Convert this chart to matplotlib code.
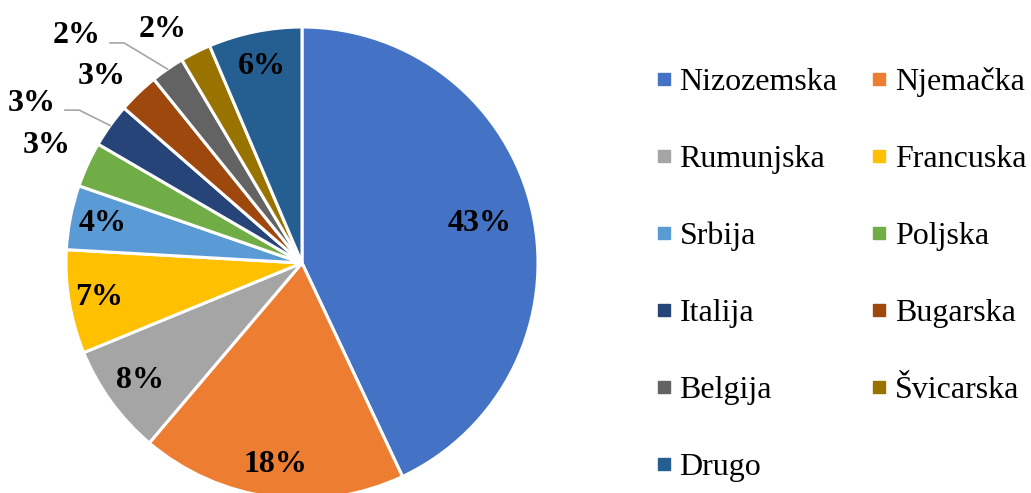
import numpy as np
import matplotlib
matplotlib.use("Agg")
import matplotlib.pyplot as plt
from matplotlib.lines import Line2D

plt.rcParams['font.family'] = ['Liberation Serif', 'DejaVu Serif']

# data (percent share)
countries = ["Nizozemska", "Njemačka", "Rumunjska", "Francuska", "Srbija", "Poljska",
             "Italija", "Bugarska", "Belgija", "Švicarska", "Drugo"]
shares = [43.0, 18.2, 7.6, 7.1, 4.4, 3.1, 3.0, 2.8, 2.3, 2.1, 6.4]
colors = ["#4472C4", "#ED7D31", "#A5A5A5", "#FFC000", "#5B9BD5", "#70AD47",
          "#264478", "#9E480E", "#636363", "#997300", "#255E91"]

# label placement (radius in pie units, angular nudge in degrees)
label_r = [0.77, 0.86, 0.85, 0.87, 0.86, 1.19, 1.33, 1.16, 1.355, 1.15, 0.85]
label_nudge = [0, 0, 0, 0, 0, 0, 5, 3, 10, 4, 0]
leader = [False, False, False, False, False, False, True, False, True, False, False]

fig = plt.figure(figsize=(10.31, 4.93), dpi=100)
ax = fig.add_axes([0, 0, 1, 1])

wedges, _ = ax.pie(shares, colors=colors, startangle=90, counterclock=False,
                   wedgeprops=dict(edgecolor="white", linewidth=2.2))

for w, s, r, nd, ld in zip(wedges, shares, label_r, label_nudge, leader):
    mid = np.deg2rad((w.theta1 + w.theta2) / 2)
    ang = mid + np.deg2rad(nd)
    tx, ty = r * np.cos(ang), r * np.sin(ang)
    ax.text(tx, ty, f"{s:.0f}%", ha="center", va="center",
            fontsize=23, fontweight="bold", color="black")
    if ld:
        sx, sy = tx + 0.14, ty - 0.03
        ex, ey = np.cos(mid), np.sin(mid)
        ax.plot([sx, sx + 0.06, ex], [sy, sy, ey], color="#A6A6A6", lw=1.2)

ax.set_aspect("auto")
ax.set_xlim(-302 / 236, (1031 - 302) / 236)
ax.set_ylim(-230 / 236, 263 / 236)
ax.axis("off")

# legend is filled row by row in the original: reorder for matplotlib's column fill
order = list(range(0, len(countries), 2)) + list(range(1, len(countries), 2))
handles = [Line2D([], [], marker="s", linestyle="none", color=colors[i], markersize=9)
           for i in order]
labels = [countries[i] for i in order]
fig.legend(handles, labels, ncol=2, loc="upper left",
           bbox_to_anchor=(654 / 1031, 1 - 67 / 493), frameon=False,
           fontsize=23, handlelength=0.6, handletextpad=0.2,
           columnspacing=1.0, labelspacing=1.49, borderpad=0, borderaxespad=0)

fig.savefig("out.png", dpi=100, facecolor="white")
